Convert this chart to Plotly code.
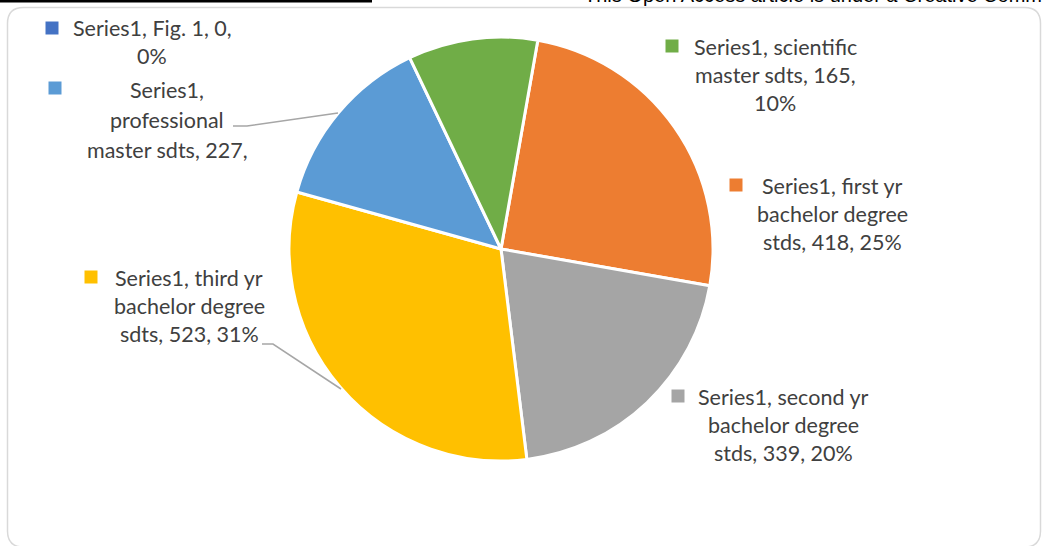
import plotly.graph_objects as go

# ---- data ----
categories = ["Fig. 1", "first yr bachelor degree stds", "second yr bachelor degree stds",
              "third yr bachelor degree sdts", "professional master sdts", "scientific master sdts"]
values = [0, 418, 339, 523, 227, 165]
series_name = "Series1"
colors = ["#4472C4", "#ED7D31", "#A5A5A5", "#FFC000", "#5B9BD5", "#70AD47"]

W, H = 1042, 546
def px(x):
    return x / W
def py(y):
    return 1 - y / H

total = sum(values)
pcts = [round(v / total * 100) for v in values]

# label lines built from the data (line breaks as in the reference)
def words(i):
    return f"{series_name}, {categories[i]}, {values[i]}, {pcts[i]}%".split(" ")

# word counts per line for each label; professional label truncated as in the image
breaks = {
    0: [4, 1],
    1: [3, 2, 3],
    2: [3, 2, 3],
    3: [3, 2, 3],
    4: [1, 1, 3],
    5: [2, 3, 1],
}
label_layout = {
    # idx: (marker_x, marker_y, text_center_x, first_line_y, line_gap)
    0: (52, 28, 152, 28, 28),
    1: (736, 185, 832, 186, 28),
    2: (678, 396, 783, 397, 28),
    3: (91, 277, 189, 278, 28),
    4: (55, 88, 167, 90, 30),
    5: (672, 46, 775, 47, 28),
}

cx, cy, r = 501, 249, 212
fig = go.Figure(go.Pie(
    labels=categories, values=values, sort=False, direction="clockwise", rotation=10,
    marker=dict(colors=colors, line=dict(color="white", width=3)),
    textinfo="none", hoverinfo="label+value+percent", showlegend=False,
    domain=dict(x=[px(cx - r), px(cx + r)], y=[py(cy + r), py(cy - r)]),
))

annotations = []
shapes = []
for i in range(len(categories)):
    mx, my, tx, ty, gap = label_layout[i]
    w = words(i)
    lines = []
    k = 0
    for n in breaks[i]:
        lines.append(" ".join(w[k:k + n]))
        k += n
    for j, line in enumerate(lines):
        annotations.append(dict(
            x=px(tx), y=py(ty + j * gap), xref="paper", yref="paper",
            text=line, showarrow=False, xanchor="center", yanchor="middle",
            font=dict(family="Lato", size=21.5, color="#404040"),
        ))
    s = 6.5
    shapes.append(dict(type="rect", xref="paper", yref="paper",
                       x0=px(mx - s), x1=px(mx + s), y0=py(my + s), y1=py(my - s),
                       fillcolor=colors[i], line=dict(width=0)))

# leader lines
def path(points):
    return "M " + " L ".join(f"{px(x)},{py(y)}" for x, y in points)
shapes.append(dict(type="path", xref="paper", yref="paper",
                   path=path([(233, 126), (247, 126), (338, 113)]),
                   line=dict(color="#A6A6A6", width=1.5)))
shapes.append(dict(type="path", xref="paper", yref="paper",
                   path=path([(262, 344), (273, 344), (341, 389)]),
                   line=dict(color="#A6A6A6", width=1.5)))

# chart area rounded border
x0, y0, x1, y1, rr = 7.5, 7.5, 1040.5, 547, 16
border = (f"M {px(x0+rr)},{py(y0)} L {px(x1-rr)},{py(y0)} Q {px(x1)},{py(y0)} {px(x1)},{py(y0+rr)} "
          f"L {px(x1)},{py(y1-rr)} Q {px(x1)},{py(y1)} {px(x1-rr)},{py(y1)} "
          f"L {px(x0+rr)},{py(y1)} Q {px(x0)},{py(y1)} {px(x0)},{py(y1-rr)} "
          f"L {px(x0)},{py(y0+rr)} Q {px(x0)},{py(y0)} {px(x0+rr)},{py(y0)} Z")
shapes.append(dict(type="path", xref="paper", yref="paper", path=border,
                   line=dict(color="#D9D9D9", width=1.5), layer="below"))

# top black rule and cut-off page text (fragment of the source page)
shapes.append(dict(type="rect", xref="paper", yref="paper",
                   x0=0, x1=px(372), y0=py(2.5), y1=py(-1), fillcolor="black", line=dict(width=0)))
annotations.append(dict(x=px(582), y=py(-5), xref="paper", yref="paper",
                        text="This Open Access article is under a Creative Commons license",
                        showarrow=False, xanchor="left", yanchor="middle",
                        font=dict(family="Liberation Sans", size=20, color="black")))

fig.update_layout(
    width=W, height=H, margin=dict(l=0, r=0, t=0, b=0),
    paper_bgcolor="white", plot_bgcolor="white",
    annotations=annotations, shapes=shapes,
)
fig.write_html("out.html", config={"displayModeBar": False},
               post_script="document.body.style.margin='0px';")
